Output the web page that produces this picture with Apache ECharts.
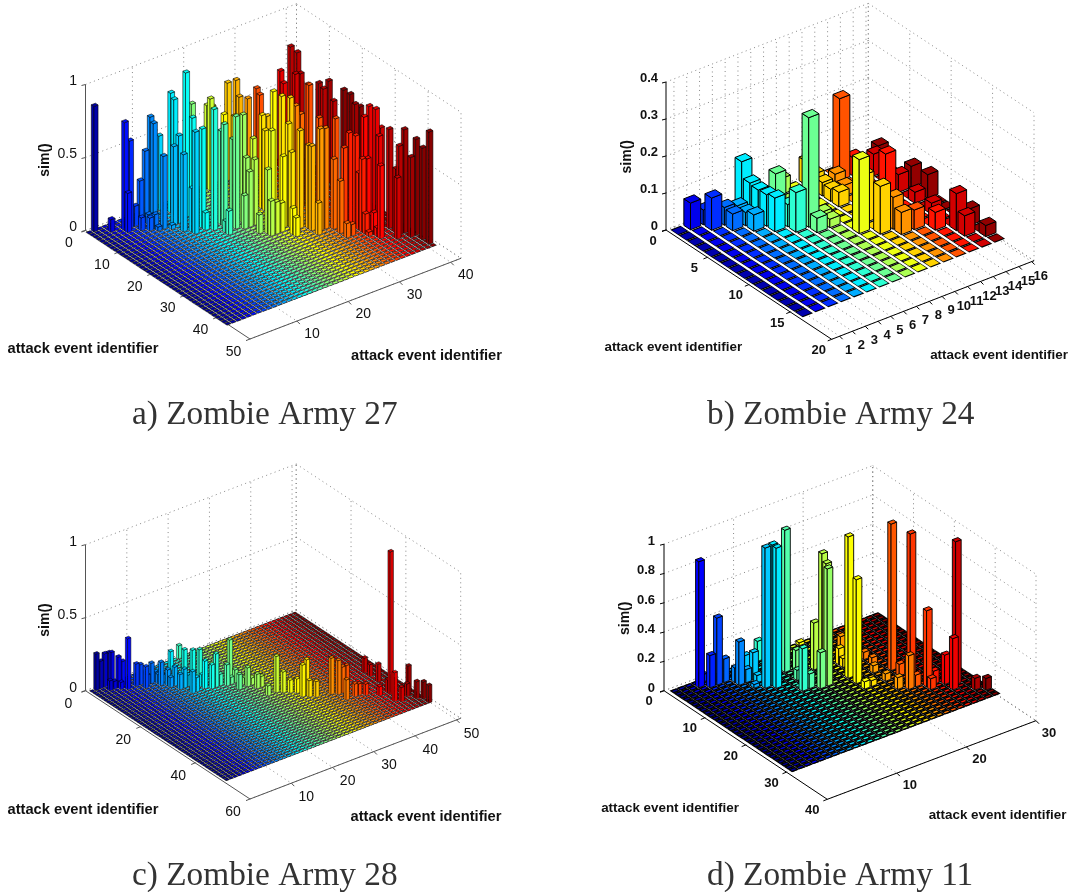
<!DOCTYPE html>
<html><head><meta charset="utf-8"><style>html,body{margin:0;padding:0;background:#fff}#c{width:1069px;height:892px}</style>
<script src="https://cdn.jsdelivr.net/npm/echarts@6/dist/echarts.min.js"></script></head>
<body><div id="c"></div>
<script>
// ---- data: [column, row, sim] for the non-zero cells; every other cell is zero ----
const bars_a=[[2,1,.86],[4,3,.087],[6,4,.74],[7,4,.60],[6,5,.27],[8,4,.14],[8,6,.09],[10,5,.07],[11,5,.07],[10,7,.1],[9,7,.09],[10,8,.03],[12,9,.03],
[11,4,.71],[11,5,.68],[10,4,.49],[9,4,.3],[14,2,.51],[11,8,.5],[15,4,.82],[15,5,.79],[16,7,.99],[14,8,.6],[13,8,.54],[13,11,.53],[21,1,.62],[16,9,.71],[14,13,.70],[14,12,.3],
[16,12,.68],[17,14,.83],[24,1,.57],[24,2,.63],[25,1,.55],[16,13,.12],[28,1,.67],[29,2,.69],[26,3,.51],[28,3,.47],[29,3,.59],[30,4,.58],[33,2,.58],[33,3,.55],
[19,14,.70],[19,13,.64],[20,15,.6],[20,16,.77],[22,15,.74],[22,16,.46],[24,15,.55],[23,17,.45],[22,17,.38],[27,14,.55],[28,13,.62],[27,13,.64],[26,18,.89],[27,19,.86],[25,19,.65],
[23,21,.44],[23,22,.24],[22,20,.13],[18,16,.08],[18,17,.165],[21,17,.23],[24,22,.22],[25,22,.2],[28,20,.85],[26,21,.49],[27,22,.52],[27,21,.70],[31,17,.71],[32,17,.64],[28,23,.67],[29,24,.57],[29,25,.58],[33,18,.84],[33,21,.66],
[31,26,.69],[30,26,.70],[33,26,.73],[34,27,.53],[32,27,.48],[32,29,.36],[32,31,.1],[33,31,.08],[35,30,.39],[36,31,.49],[36,35,.5],[35,31,.5],
[39,3,.80],[39,5,.79],[37,3,.66],[37,4,.59],[38,6,.67],[39,6,.66],[34,16,.80],[40,10,.64],[40,13,.70],[39,13,.66],[41,16,.67],[41,18,.67],[39,16,.62],[40,21,.66],[41,21,.63],
[37,30,.82],[37,32,.83],[36,30,.76],[38,32,.69],[39,33,.68],[40,36,.71],[39,36,.61],[40,38,.55],[41,38,.66],[41,40,.63],[41,42,.77],[38,37,.42],[39,35,.44],
[35,27,.62],[35,29,.63],[37,33,.66],[35,32,.14],[36,33,.15],[36,32,.12],[36,34,.06],[35,33,.03],[29,27,.22],[26,25,.13],[26,24,.18]];
const bars_b=[[2,1,.072],[3,2,.087],[3,1,.04],[4,3,.045],[5,4,.044],[6,5,.091],[7,6,.107],[8,7,.039],[9,7,.023],[9,6,.027],[8,6,.296],[13,2,.221],[6,1,.13],[6,2,.087],[6,3,.083],[6,4,.085],
[8,2,.085],[9,1,.043],[5,2,.039],[5,3,.036],[4,2,.048],[7,5,.06],[11,1,.064],[12,3,.045],[11,3,.036],[11,4,.033],[11,5,.039],[12,4,.029],[11,2,.044],
[10,9,.2],[11,8,.13],[11,10,.129],[12,10,.086],[12,11,.06],[13,11,.053],[14,12,.048],[14,6,.117],[14,2,.049],[16,2,.053],[15,3,.059],[16,6,.057],[16,8,.064],[15,6,.048],[15,8,.03],[15,10,.03],
[15,13,.1],[15,14,.055],[16,13,.045],[16,15,.03]];
const bars_c=[[46,42,.98],[2,1,.25],[4,1,.23],[3,1,.19],[5,2,.24],[5,1,.226],[6,3,.21],[7,3,.17],[7,5,.35],[9,5,.155],[10,5,.14],[10,7,.15],[11,6,.07],[12,6,.14],[13,8,.16],[13,6,.07],[14,9,.11],
[18,4,.13],[22,1,.09],[20,6,.145],[20,9,.18],[21,10,.185],[15,10,.13],[15,12,.105],[16,12,.13],[16,15,.15],[17,15,.1],[19,15,.19],[20,16,.165],[21,16,.23],[23,17,.146],[25,15,.27],[25,17,.09],
[24,20,.105],[26,20,.13],[27,20,.05],[28,22,.075],[27,26,.07],[29,26,.25],[30,27,.145],[31,28,.09],[32,29,.1],[32,31,.22],[33,31,.245],[33,32,.115],[34,33,.11],[37,34,.25],[38,35,.235],[39,35,.18],[40,35,.18],
[38,38,.14],[40,38,.09],[41,38,.08],[42,39,.08],[47,31,.105],[47,33,.085],[47,36,.125],[44,41,.065],[46,41,.09],[45,45,.2],[46,46,.1],[49,44,.19],[48,45,.09],[49,47,.12],[50,48,.12],[50,50,.12],
[4,3,.07],[5,3,.055],[6,4,.05],[13,7,.065],[14,7,.05],[14,10,.07],[16,10,.055],[17,12,.08],[19,14,.085],[22,16,.08],[24,17,.05],[26,19,.05],[27,22,.1]];
const bars_d=[[4,2,.86],[6,3,.458],[5,3,.22],[7,3,.16],[5,1,.05],[8,5,.296],[8,4,.1],[9,5,.09],[10,3,.13],[10,5,.187],[10,6,.05],[9,7,.025],[13,1,.137],[10,8,.957],[11,8,.96],[11,9,.957],[14,6,.97],
[15,7,.15],[13,12,.29],[14,12,.10],[13,11,.01],[14,9,.07],[15,13,.246],[16,13,.80],[17,10,.83],[17,11,.78],[17,8,.32],[18,7,.23],[19,13,.965],[19,15,.71],[24,15,1.0],[25,18,.97],[25,22,.52],
[28,24,.975],[27,25,.35],[27,23,.2],[29,27,.08],[30,28,.08],[23,21,.23],[22,20,.08],[24,21,.08],[25,23,.075],[26,22,.09],[24,17,.08],[20,17,.04],[19,17,.05],[22,6,.1],[23,10,.05],[23,12,.05],[22,14,.05],[22,17,.05],[20,9,.11],[20,10,.06],[19,1,.02]];
const ticks_a={z:[0,0.5,1],r:[0,10,20,30,40,50],c:[10,20,30,40]};
const ticks_b={z:[0,0.1,0.2,0.3,0.4],r:[0,5,10,15,20],c:[1,2,3,4,5,6,7,8,9,10,11,12,13,14,15,16]};
const ticks_c={z:[0,0.5,1],r:[0,20,40,60],c:[10,20,30,40,50]};
const ticks_d={z:[0,0.2,0.4,0.6,0.8,1],r:[0,10,20,30,40],c:[10,20,30]};
const captions=['a) Zombie Army 27','b) Zombie Army 24','c) Zombie Army 28','d) Zombie Army 11'];
const axisTitle='attack event identifier', zTitle='sim()';

// ---- views: how each panel's box projects to the page ----
const panels=[
 {bars:bars_a,ticks:ticks_a,box:[0,0,534,385],L:[85.5,230.5],F:[250,339],R:[461,258.3],zh:146,zmax:1,rmax:50,cmin:.85,cmax:42,cols:41,rows:43,rShift:0,
  edge:'rgba(0,0,0,.8)',lw:.7,axisC:'#555',gridC:'#888',inC:.36,inR:.3,baseC:'rgba(0,0,0,.75)',gap:'#808080',
  font:'14px "Liberation Sans"',tfont:'bold 14.7px "Liberation Sans"',rOff:[-16.5,13],cOff:[15,13],zOff:[-8.5,-3],
  tL:[83,349],tR:[426.5,356],tZ:[45,160]},
 {bars:bars_b,ticks:ticks_b,box:[534,0,535,385],L:[666,230],F:[831.7,339.3],R:[1034,260.7],zh:148,zmax:.4,rmax:20,cmin:.38,cmax:16.18,cols:16,rows:16,rShift:-.33,
  edge:'#000',lw:1,axisC:'#000',gridC:'#888',inC:.35,inR:.36,baseC:'#000',gap:null,
  font:'bold 13px "Liberation Sans"',tfont:'bold 13.4px "Liberation Sans"',rOff:[-13,11],cOff:[9,14.5],zOff:[-8,-3.5],
  tL:[673.3,347.3],tR:[999,355.7],tZ:[627.3,156.7]},
 {bars:bars_c,ticks:ticks_c,box:[0,450,534,385],L:[85.5,690.7],F:[250,799],R:[460.7,718.3],zh:146,zmax:1,rmax:60,cmin:0,cmax:51,cols:50,rows:50,rShift:0,
  edge:'rgba(0,0,0,.85)',lw:.6,axisC:'#555',gridC:'#888',inC:.34,inR:.26,baseC:'rgba(0,0,0,.8)',gap:'#707070',
  font:'14px "Liberation Sans"',tfont:'bold 14.7px "Liberation Sans"',rOff:[-17,13],cOff:[15,14],zOff:[-8.5,-3],
  tL:[83,810],tR:[426,816.7],tZ:[45,620]},
 {bars:bars_d,ticks:ticks_d,box:[534,450,535,385],L:[664,690.7],F:[827.3,799.3],R:[1036,720.7],zh:146.5,zmax:1,rmax:40,cmin:0,cmax:30,cols:30,rows:30,rShift:0,
  edge:'#000',lw:.9,axisC:'#000',gridC:'#888',inC:.3,inR:.17,baseC:'#000',gap:'#0a0a0a',
  font:'bold 13px "Liberation Sans"',tfont:'bold 13.4px "Liberation Sans"',rOff:[-15,11],cOff:[13,12.4],zOff:[-9,-2.6],
  tL:[670,808.3],tR:[997.5,815.7],tZ:[625,618.3]}
];
const captionPos=[[132,419],[707,419],[132,880],[707,880]];

function jet(i,n){ // MATLAB jet colormap
  const t=(i-.3)/n, cl=v=>Math.max(0,Math.min(1,v));
  const r=cl(Math.min(4*t-1.5,-4*t+4.5)),g=cl(Math.min(4*t-.5,-4*t+3.5)),b=cl(Math.min(4*t+.5,-4*t+2.5));
  return `rgb(${Math.round(r*255)},${Math.round(g*255)},${Math.round(b*255)})`;
}
function project(p,c,r,z){
  const u=(c-p.cmin)/(p.cmax-p.cmin),w=r/p.rmax;
  return [p.L[0]+u*(p.R[0]-p.F[0])+w*(p.F[0]-p.L[0]),
          p.L[1]+u*(p.R[1]-p.F[1])+w*(p.F[1]-p.L[1])-z/p.zmax*p.zh];
}
function cells(p){
  const m=new Map();p.bars.forEach(b=>m.set(b[0]+'_'+b[1],b[2]));
  const d=[];for(let c=1;c<=p.cols;c++)for(let r=1;r<=p.rows;r++)d.push([c,r,m.get(c+'_'+r)||0]);
  return d.sort((a,b)=>(a[1]-a[0])-(b[1]-b[0]));
}
function poly(api,pts,fill,stroke,lw){
  return {type:'polygon',shape:{points:pts.map(q=>api.coord(q))},silent:true,
    style:{fill:fill,stroke:stroke||null,lineWidth:lw||0}};
}
function barItem(p){return function(params,api){
  const c=api.value(0),r=api.value(1)+p.rShift,v=api.value(2),col=jet(c,p.cols),h=.4;
  const P=(a,b,z)=>project(p,a,b,z),ch=[];
  if(v<=0){
    if(p.gap)ch.push(poly(api,[P(c-.5,r-.5,0),P(c+.5,r-.5,0),P(c+.5,r+.5,0),P(c-.5,r+.5,0)],p.gap));
    ch.push(poly(api,[P(c-h,r-.5,0),P(c+h,r-.5,0),P(c+h,r+.5,0),P(c-h,r+.5,0)],p.baseC));
    ch.push(poly(api,[P(c-p.inC,r-p.inR,0),P(c+p.inC,r-p.inR,0),P(c+p.inC,r+p.inR,0),P(c-p.inC,r+p.inR,0)],col));
  }else{
    ch.push(poly(api,[P(c-h,r-h,0),P(c-h,r+h,0),P(c-h,r+h,v),P(c-h,r-h,v)],col,p.edge,p.lw));
    ch.push(poly(api,[P(c-h,r+h,0),P(c+h,r+h,0),P(c+h,r+h,v),P(c-h,r+h,v)],col,p.edge,p.lw));
    ch.push(poly(api,[P(c-h,r-h,v),P(c+h,r-h,v),P(c+h,r+h,v),P(c-h,r+h,v)],col,p.edge,p.lw));
  }
  return {type:'group',children:ch};
}}
function frameItem(p){return function(params,api){
  const ch=[],P=(a,b,z)=>api.coord(project(p,a,b,z));
  const line=(a,b,col,lw,dash)=>ch.push({type:'line',silent:true,shape:{x1:a[0],y1:a[1],x2:b[0],y2:b[1]},style:{stroke:col,lineWidth:lw,lineDash:dash||null}});
  const D=[1,3.5],zt=p.zmax,gc=p.gridC,cm=p.cmin,cx=p.cmax,rx=p.rmax,T=p.ticks;
  const text=(s,x,y,font,al,rot)=>ch.push({type:'text',silent:true,x:x,y:y,rotation:rot||0,style:{text:s,x:0,y:0,font:font,fill:'#111',align:al,verticalAlign:'middle'}});
  T.z.forEach(z=>{line(P(cm,0,z),P(cx,0,z),gc,1,D);line(P(cx,0,z),P(cx,rx,z),gc,1,D);});
  T.c.concat([cx]).forEach(c=>{line(P(c,0,0),P(c,0,zt),gc,1,D);line(P(c,0,0),P(c,rx,0),gc,1,D);});
  T.r.forEach(r=>{line(P(cx,r,0),P(cx,r,zt),gc,1,D);line(P(cm,r,0),P(cx,r,0),gc,1,D);});
  line(P(cm,0,0),P(cm,0,zt),p.axisC,1);
  line(P(cm,0,0),P(cm,rx,0),p.axisC,1);
  line(P(cm,rx,0),P(cx,rx,0),p.axisC,1);
  T.z.forEach(z=>{const a=P(cm,0,z);line(a,[a[0]-4,a[1]+1],p.axisC,1);text(String(z),a[0]+p.zOff[0],a[1]+p.zOff[1],p.font,'right');});
  T.r.forEach(r=>{const a=P(cm,r,0);line(a,[a[0]-4,a[1]+1.6],p.axisC,1);text(String(r),a[0]+p.rOff[0],a[1]+p.rOff[1],p.font,'center');});
  T.c.forEach(c=>{const a=P(c,rx,0);line(a,[a[0]+3,a[1]+3],p.axisC,1);text(String(c),a[0]+p.cOff[0],a[1]+p.cOff[1],p.font,'center');});
  text(axisTitle,p.tL[0],p.tL[1],p.tfont,'center');
  text(axisTitle,p.tR[0],p.tR[1],p.tfont,'center');
  text(zTitle,p.tZ[0],p.tZ[1],'bold 14px "Liberation Sans"','center',Math.PI/2);
  return {type:'group',children:ch};
}}
const grids=[],xAxes=[],yAxes=[],series=[];
panels.forEach((p,i)=>{
  const b=p.box;
  grids.push({left:b[0],top:b[1],width:b[2],height:b[3]});
  xAxes.push({type:'value',gridIndex:i,min:b[0],max:b[0]+b[2],show:false});
  yAxes.push({type:'value',gridIndex:i,min:b[1],max:b[1]+b[3],inverse:true,show:false});
  series.push({type:'custom',xAxisIndex:i,yAxisIndex:i,clip:false,silent:true,z:1,data:[[0,0]],renderItem:frameItem(p),encode:{x:0,y:1}});
  series.push({type:'custom',xAxisIndex:i,yAxisIndex:i,clip:false,silent:true,z:2,data:cells(p),renderItem:barItem(p),encode:{x:0,y:1}});
});
const chart=echarts.init(document.getElementById('c'),null,{renderer:'canvas'});
chart.setOption({animation:false,backgroundColor:'#fff',grid:grids,xAxis:xAxes,yAxis:yAxes,series:series,
 graphic:captions.map((t,i)=>({type:'text',left:captionPos[i][0],top:captionPos[i][1]-20,scaleX:1.01,silent:true,
   style:{text:t,font:'33px "Liberation Serif"',fill:'#333'}}))});
</script></body></html>
